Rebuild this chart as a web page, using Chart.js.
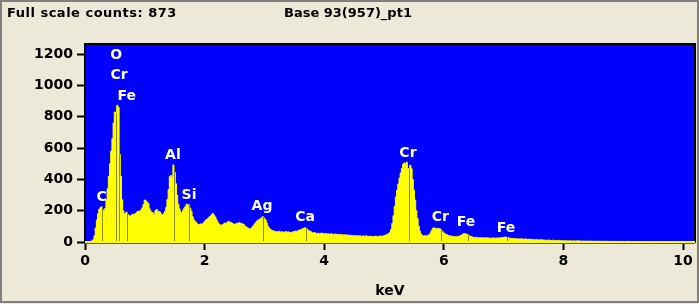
<!DOCTYPE html>
<html>
<head>
<meta charset="utf-8">
<script src="https://cdn.jsdelivr.net/npm/chart.js@4"></script>
<style>
  html, body { margin: 0; padding: 0; background: #ece9d8; }
  canvas { display: block; }
</style>
</head>
<body>
<canvas id="spec" width="699" height="304"></canvas>
<script>
'use strict';

// ── Data ────────────────────────────────────────────────────────────────────

const TITLE_LEFT  = 'Full scale counts: 873';
const TITLE_RIGHT = 'Base 93(957)_pt1';

const CHANNEL_KEV = 0.02;   // width of one channel
const X_TICKS = [0, 2, 4, 6, 8, 10];
const Y_TICKS = [0, 200, 400, 600, 800, 1000, 1200];

// counts per channel, 0.00 .. 10.18 keV (25 channels = 0.5 keV per row)
const COUNTS = [
  0, 0, 0, 2, 3, 5, 8, 15, 40, 90, 140, 180, 210, 220, 225, 205, 195, 215, 270, 340, 420, 500, 580, 660, 760,
  830, 820, 873, 860, 560, 420, 270, 200, 180, 185, 190, 175, 168, 165, 172, 178, 168, 180, 186, 195, 198, 188, 205, 218, 240,
  268, 262, 255, 245, 212, 196, 190, 186, 176, 202, 208, 182, 196, 190, 176, 172, 182, 196, 222, 272, 335, 418, 425, 412, 492,
  445, 372, 300, 242, 212, 192, 186, 202, 216, 226, 242, 232, 238, 216, 196, 162, 142, 132, 126, 116, 110, 113, 116, 110, 121,
  131, 140, 146, 151, 160, 166, 176, 182, 171, 160, 142, 126, 116, 110, 106, 111, 116, 121, 118, 126, 131, 128, 125, 121, 116,
  111, 116, 119, 121, 123, 120, 118, 115, 110, 101, 96, 90, 86, 81, 86, 96, 106, 116, 126, 135, 141, 146, 150, 156, 162,
  151, 141, 121, 101, 90, 81, 76, 72, 70, 68, 66, 65, 69, 65, 63, 66, 62, 64, 67, 63, 65, 62, 60, 62, 65,
  68, 70, 67, 72, 75, 78, 81, 85, 88, 91, 88, 80, 72, 70, 65, 60, 58, 61, 55, 54, 57, 52, 55, 58, 54,
  52, 55, 50, 53, 51, 49, 54, 50, 48, 52, 47, 50, 46, 49, 45, 48, 44, 47, 43, 46, 42, 45, 41, 44, 40,
  39, 42, 38, 41, 37, 40, 36, 39, 38, 36, 40, 37, 35, 38, 36, 34, 37, 35, 38, 36, 34, 37, 39, 36, 38,
  40, 43, 46, 50, 55, 62, 80, 118, 168, 228, 288, 330, 370, 408, 440, 470, 495, 505, 498, 510, 470, 462, 490, 468, 400,
  332, 268, 200, 150, 102, 70, 52, 43, 38, 40, 38, 41, 43, 48, 60, 76, 88, 91, 85, 88, 85, 87, 84, 76, 66,
  58, 52, 48, 45, 42, 40, 38, 36, 35, 36, 34, 35, 36, 38, 40, 45, 50, 55, 52, 50, 48, 42, 38, 35, 32,
  30, 29, 31, 28, 27, 29, 26, 28, 27, 25, 28, 26, 27, 25, 24, 26, 25, 27, 24, 26, 25, 27, 26, 28, 29,
  30, 32, 31, 29, 27, 25, 24, 22, 23, 21, 22, 20, 21, 19, 20, 21, 19, 18, 20, 19, 17, 18, 19, 17, 16,
  17, 15, 16, 14, 15, 13, 14, 15, 13, 12, 13, 11, 12, 13, 11, 10, 11, 12, 10, 9, 10, 11, 9, 8, 9,
  8, 9, 8, 7, 8, 7, 8, 6, 7, 8, 6, 7, 9, 6, 7, 6, 5, 7, 6, 5, 6, 7, 5, 6, 5,
  6, 5, 4, 5, 6, 4, 5, 4, 6, 5, 4, 5, 4, 3, 5, 4, 5, 3, 4, 5, 4, 3, 4, 5, 3,
  4, 3, 4, 3, 5, 3, 4, 3, 3, 4, 3, 2, 4, 3, 3, 4, 2, 3, 3, 2, 4, 3, 2, 3, 3,
  2, 3, 2, 3, 2, 4, 2, 3, 2, 2, 3, 2, 3, 2, 2, 3, 2, 2, 3, 2, 2, 1, 2, 3, 2,
  2, 1, 2, 2, 1, 2, 1, 2, 1, 2,
];

// element markers: name, line energy (keV), label position (keV, counts)
const PEAK_NAMES  = ['C', 'O', 'Cr', 'Fe', 'Al', 'Si', 'Ag', 'Ca', 'Cr', 'Cr', 'Fe', 'Fe'];
const PEAK_KEV    = [0.277, 0.525, 0.573, 0.705, 1.486, 1.740, 2.984, 3.69, 5.414, 5.946, 6.40, 7.06];
const LABEL_KEV   = [0.28, 0.52, 0.57, 0.70, 1.47, 1.74, 2.96, 3.68, 5.40, 5.94, 6.37, 7.04];
const LABEL_COUNT = [287, 1193, 1066, 932, 555, 300, 230, 160, 568, 160, 128, 89];

// ── Plugins ─────────────────────────────────────────────────────────────────

const FONT = '"DejaVu Sans", Verdana, sans-serif';

const frame = {
  id: 'frame',
  beforeDraw(chart) {
    const { ctx, chartArea: a } = chart;
    ctx.save();
    ctx.fillStyle = '#ece9d8';
    ctx.fillRect(0, 0, chart.width, chart.height);
    // window frame
    ctx.strokeStyle = '#808080';
    ctx.lineWidth = 2;
    ctx.strokeRect(1, 1, chart.width - 2, chart.height - 3);
    // plot background
    ctx.fillStyle = '#0000ff';
    ctx.fillRect(a.left, a.top, a.right - a.left, a.bottom - a.top);
    // header texts
    ctx.fillStyle = '#000';
    ctx.font = 'bold 13px ' + FONT;
    ctx.textBaseline = 'middle';
    ctx.letterSpacing = '0.5px';
    ctx.fillText(TITLE_LEFT, 7, 14);
    ctx.letterSpacing = '0px';
    ctx.fillText(TITLE_RIGHT, 284, 14);
    ctx.restore();
  },
  afterDatasetsDraw(chart) {
    const { ctx, chartArea: a, scales: { x, y } } = chart;
    ctx.save();
    // marker lines up to the spectrum
    ctx.strokeStyle = '#8a8a00';
    ctx.lineWidth = 1;
    PEAK_KEV.forEach(e => {
      const c = COUNTS[Math.round(e / CHANNEL_KEV)];
      const px = Math.round(x.getPixelForValue(e)) + 0.5;
      ctx.beginPath();
      ctx.moveTo(px, y.getPixelForValue(0));
      ctx.lineTo(px, y.getPixelForValue(c));
      ctx.stroke();
    });
    // labels
    ctx.fillStyle = '#fff';
    ctx.font = 'bold 14px ' + FONT;
    ctx.textAlign = 'center';
    ctx.textBaseline = 'middle';
    PEAK_NAMES.forEach((n, i) => {
      ctx.fillText(n, x.getPixelForValue(LABEL_KEV[i]), y.getPixelForValue(LABEL_COUNT[i]));
    });
    // plot border: dark on three sides, yellow baseline at the bottom
    ctx.strokeStyle = '#000';
    ctx.lineWidth = 2;
    ctx.beginPath();
    ctx.moveTo(a.left, a.bottom);
    ctx.lineTo(a.left, a.top);
    ctx.lineTo(a.right, a.top);
    ctx.lineTo(a.right, a.bottom);
    ctx.stroke();
    ctx.strokeStyle = '#ffff00';
    ctx.beginPath();
    ctx.moveTo(a.left, a.bottom - 1);
    ctx.lineTo(a.right, a.bottom - 1);
    ctx.stroke();
    ctx.strokeStyle = '#555';
    ctx.lineWidth = 1;
    ctx.beginPath();
    ctx.moveTo(a.left, a.bottom + 0.5);
    ctx.lineTo(a.right, a.bottom + 0.5);
    ctx.stroke();
    ctx.restore();
  },
};

// ── Chart ───────────────────────────────────────────────────────────────────

const points = COUNTS.map((v, i) => ({ x: +(i * CHANNEL_KEV).toFixed(2), y: v }));
const tickFont = { family: FONT, size: 14, weight: 'bold' };

new Chart(document.getElementById('spec'), {
  type: 'line',
  data: {
    datasets: [{
      data: points,
      stepped: 'middle',
      fill: 'origin',
      backgroundColor: '#ffff00',
      borderColor: '#ffff00',
      borderWidth: 1,
      pointRadius: 0,
    }],
  },
  options: {
    responsive: false,
    animation: false,
    layout: { padding: { top: 44, right: 4, left: 0, bottom: 0 } },
    plugins: { legend: { display: false }, tooltip: { enabled: false } },
    scales: {
      x: {
        type: 'linear', min: 0, max: 10.2,
        afterBuildTicks: s => { s.ticks = X_TICKS.map(v => ({ value: v })); },
        afterFit: s => { s.height = 61; },
        grid: { drawOnChartArea: false, tickLength: 7, color: '#000', tickWidth: 2 },
        border: { display: false },
        ticks: { color: '#000', font: tickFont, padding: 3, maxRotation: 0, callback: v => String(v) },
        title: { display: true, text: 'keV', color: '#000', font: tickFont, padding: { top: 4 } },
      },
      y: {
        min: -6, max: 1264,
        afterBuildTicks: s => { s.ticks = Y_TICKS.map(v => ({ value: v })); },
        afterFit: s => { s.width = 85; },
        grid: { drawOnChartArea: false, tickLength: 8, color: '#000', tickWidth: 2 },
        border: { display: false },
        ticks: { color: '#000', font: tickFont, padding: 4, callback: v => String(v) },
      },
    },
  },
  plugins: [frame],
});
</script>
</body>
</html>
